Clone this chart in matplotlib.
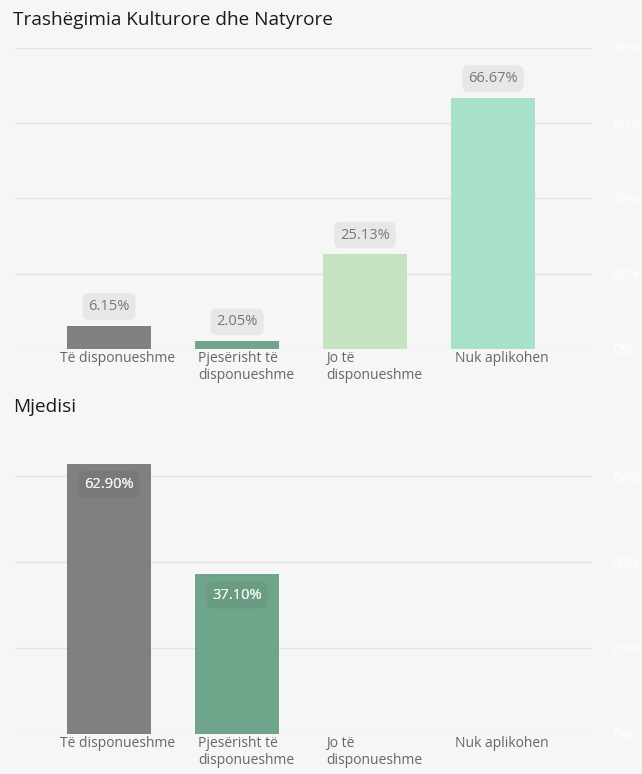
import matplotlib.pyplot as plt
import matplotlib.transforms as mtransforms

plt.rcParams['font.family'] = ['Open Sans', 'DejaVu Sans']

categories = ["Të disponueshme", "Pjesërisht të\ndisponueshme", "Jo të\ndisponueshme", "Nuk aplikohen"]
heritage_vals = [6.15, 2.05, 25.13, 66.67]
env_vals = [62.90, 37.10, None, None]
bar_colors = ["#808080", "#6fa58b", "#c6e3c1", "#a8e1c9"]
top_ticks = [0, 20, 40, 60, 80]
bottom_ticks = [0, 20, 40, 60]

BG = "#f6f6f6"
W, H = 642, 774

fig = plt.figure(figsize=(W / 100, H / 100), dpi=100, facecolor=BG)


def make_axes(top_px, bottom_px):
    ax = fig.add_axes([15 / W, (H - bottom_px) / H, 577 / W, (bottom_px - top_px) / H])
    ax.set_facecolor(BG)
    for s in ax.spines.values():
        s.set_visible(False)
    ax.set_xlim(-0.734, 3.773)
    ax.yaxis.tick_right()
    ax.tick_params(axis='y', length=0, pad=15, labelcolor='white', labelsize=10)
    ax.tick_params(axis='x', length=0, labelbottom=False)
    ax.grid(axis='y', color='#e3e3e3', linewidth=1)
    ax.set_axisbelow(True)
    trans = mtransforms.blended_transform_factory(ax.transData, ax.transAxes)
    for i, c in enumerate(categories):
        ax.text(i + 0.07, -0.008, c, transform=trans, ha='center', va='top',
                multialignment='left', fontsize=10, color='#666666', linespacing=1.15)
    return ax


# top panel
ax1 = make_axes(48, 349)
ax1.set_ylim(0, 80)
ax1.set_yticks(top_ticks)
ax1.set_yticklabels([f"{t}%" for t in top_ticks])
ax1.bar(range(4), heritage_vals, width=0.656, color=bar_colors)
for i, v in enumerate(heritage_vals):
    ax1.annotate(f"{v:.2f}%", (i, v), xytext=(0, 14), textcoords='offset points',
                 ha='center', va='center', fontsize=10.5, color='#777777',
                 bbox=dict(boxstyle='round,pad=0.4,rounding_size=0.45', fc='#e7e7e7', ec='none'))
fig.text(13 / W, 1 - 20 / H, "Trashëgimia Kulturore dhe Natyrore", fontsize=13.7,
         color='#1a1a1a', va='center', ha='left')

# bottom panel
ax2 = make_axes(455, 734)
ax2.set_ylim(0, (734 - 455) / 86 * 20)
ax2.set_yticks(bottom_ticks)
ax2.set_yticklabels([f"{t}%" for t in bottom_ticks])
for i, v in enumerate(env_vals):
    if v is None:
        continue
    ax2.bar(i, v, width=0.656, color=bar_colors[i])
    ax2.annotate(f"{v:.2f}%", (i, v), xytext=(0, -15), textcoords='offset points',
                 ha='center', va='center', fontsize=10.5, color='white',
                 bbox=dict(boxstyle='round,pad=0.4,rounding_size=0.45', fc='black',
                           alpha=0.05, ec='none'))
    ax2.annotate(f"{v:.2f}%", (i, v), xytext=(0, -15), textcoords='offset points',
                 ha='center', va='center', fontsize=10.5, color='#f4f4f4')
fig.text(13 / W, 1 - 407 / H, "Mjedisi", fontsize=13.7, color='#1a1a1a', va='center', ha='left')

fig.savefig("out.png", dpi=100, facecolor=BG)
